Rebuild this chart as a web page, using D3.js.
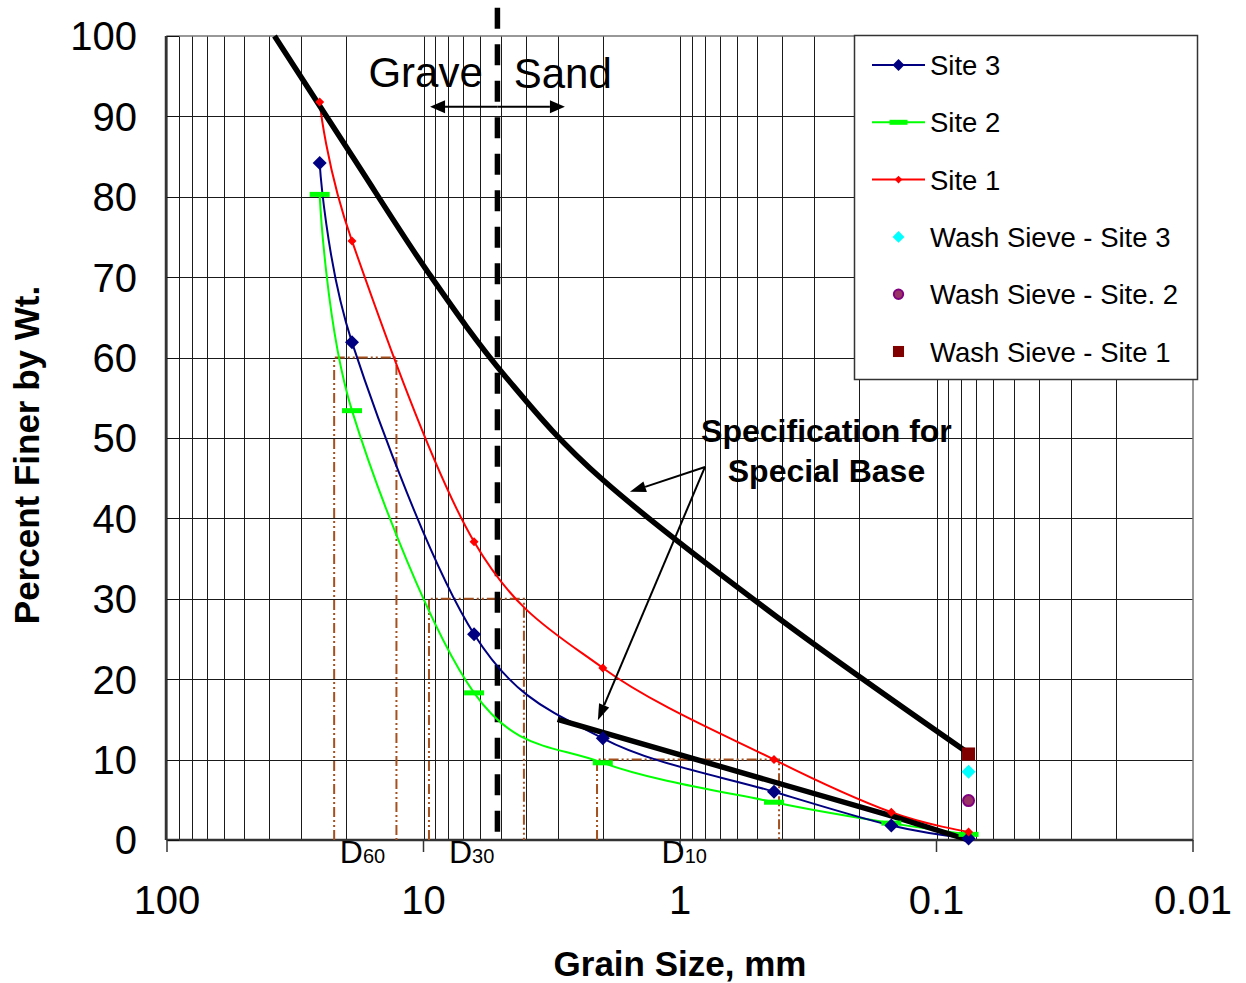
<!DOCTYPE html>
<html><head><meta charset="utf-8">
<script src="https://cdn.jsdelivr.net/npm/d3@7"></script>
<style>body{margin:0;background:#fff}</style>
</head><body>
<svg id="c" width="1246" height="983"></svg>
<script>
// ---------------- DATA ----------------
const sieveSizes = [25.4, 19, 6.35, 2, 0.43, 0.15, 0.075];      // mm
const site3 = [84.2, 61.9, 25.6, 12.65, 6.0, 1.8, 0.2];       // % finer
const site2 = [80.3, 53.4, 18.3, 9.6, 4.7, 2.1, 0.7];
const site1 = [91.8, 74.5, 37.1, 21.4, 10.0, 3.45, 1.0];
const washSize = [0.075];
const washSite3 = [8.5];
const washSite2 = [4.9];
const washSite1 = [10.7];
const specUpperSize = [38.1, 19, 9.5, 4.75, 2, 0.425, 0.075];
const specUpperPct  = [100, 85.1, 70.4, 57.5, 44.8, 27.9, 10.8];
const specLowerSize = [3.0, 0.15, 0.075];
const specLowerPct  = [15, 3.0, 0];
const dPct     = [60, 30, 10];
const dCoarse  = [22.3, 9.52, 2.106];
const dFine    = [12.75, 4.06, 0.411];
const dLabels  = ["60", "30", "10"];
const dLabelSize = [21.2, 7.96, 1.18];
const dLabelPct = -2.86;
const xTickValues = [100, 10, 1, 0.1, 0.01];
const xTickLabels = ["100", "10", "1", "0.1", "0.01"];
const yTickValues = [0, 10, 20, 30, 40, 50, 60, 70, 80, 90, 100];
const legendLabels = ["Site 3", "Site 2", "Site 1", "Wash Sieve - Site 3", "Wash Sieve - Site. 2", "Wash Sieve - Site 1"];
const boundarySize = 5.15;            // gravel / sand boundary (mm)
const boundaryTopPct = 103.5;
const gsArrowSize = [9.43, 2.81];
const gsArrowPct = 91.2;
const gravelLabel = ["Grave", 16.4, 93.65];
const sandLabel = ["Sand", 4.45, 93.5];
const specText = ["Specification for", "Special Base"];
const specTextSize = 0.2685;
const specTextPct = [49.5, 44.5];
const specArrowFrom = [0.799, 46.4];
const specArrowTips = [[1.567, 43.3], [2.09, 14.9]];

// ---------------- CHART ----------------
const svg = d3.select("#c");
const L = 167, R = 1193, T = 36, B = 840;
const x = d3.scaleLog().domain([100, 0.01]).range([L, R]);
const y = d3.scaleLinear().domain([0, 100]).range([B, T]);
const font = "'Liberation Sans', Arial, Helvetica, sans-serif";
const crisp = v => Math.round(v) + 0.5;

// grid
const grid = svg.append("g").attr("stroke", "#1a1a1a").attr("stroke-width", 1).attr("shape-rendering", "crispEdges");
grid.selectAll("line.v").data(x.ticks().filter(d => d < 99 && d > 0.0101)).join("line")
  .attr("x1", d => crisp(x(d))).attr("x2", d => crisp(x(d)))
  .attr("y1", T).attr("y2", B);
grid.selectAll("line.h").data(yTickValues.filter(d => d > 0 && d < 100)).join("line")
  .attr("x1", L).attr("x2", R)
  .attr("y1", d => crisp(y(d))).attr("y2", d => crisp(y(d)));

// frame
svg.append("rect").attr("x", L).attr("y", T).attr("width", R - L).attr("height", B - T)
  .attr("fill", "none").attr("stroke", "#777").attr("stroke-width", 1.5);
svg.append("line").attr("x1", L).attr("x2", R).attr("y1", B).attr("y2", B).attr("stroke", "#333").attr("stroke-width", 2.5);
svg.append("line").attr("x1", L - 1).attr("x2", L - 1).attr("y1", T).attr("y2", B).attr("stroke", "#333").attr("stroke-width", 2.5);

// y ticks inward
svg.append("g").selectAll("line").data(yTickValues).join("line")
  .attr("x1", L).attr("x2", L + 12).attr("y1", d => crisp(y(d))).attr("y2", d => crisp(y(d)))
  .attr("stroke", "#111").attr("stroke-width", 1);
// x ticks outward
svg.append("g").selectAll("line").data(xTickValues).join("line")
  .attr("x1", d => x(d)).attr("x2", d => x(d)).attr("y1", B).attr("y2", B + 12)
  .attr("stroke", "#333").attr("stroke-width", 1.5);

// tick labels
svg.append("g").selectAll("text").data(yTickValues).join("text")
  .attr("x", 137).attr("y", d => y(d)).attr("dy", "0.36em")
  .attr("text-anchor", "end").attr("font-family", font).attr("font-size", 40)
  .text(d => d);
svg.append("g").selectAll("text").data(xTickValues).join("text")
  .attr("x", d => x(d)).attr("y", 914)
  .attr("text-anchor", "middle").attr("font-family", font).attr("font-size", 40)
  .text((d, i) => xTickLabels[i]);

// axis titles
svg.append("text").attr("x", 680).attr("y", 976).attr("text-anchor", "middle")
  .attr("font-family", font).attr("font-weight", "bold").attr("font-size", 35).text("Grain Size, mm");
svg.append("text").attr("transform", "translate(39,455) rotate(-90)").attr("text-anchor", "middle")
  .attr("font-family", font).attr("font-weight", "bold").attr("font-size", 35).text("Percent Finer by Wt.");

// D-lines
const line = d3.line().x(d => x(d[0])).y(d => y(d[1]));
svg.append("g").selectAll("path").data(dPct).join("path")
  .attr("d", (p, i) => line([[dCoarse[i], 0], [dCoarse[i], p], [dFine[i], p], [dFine[i], 0]]))
  .attr("fill", "none").attr("stroke", "#A5501F").attr("stroke-width", 2)
  .attr("stroke-dasharray", "10,3,2,3,2,3");

// D labels
const dl = svg.append("g").selectAll("text").data(dLabels).join("text")
  .attr("x", (d, i) => x(dLabelSize[i])).attr("y", y(dLabelPct))
  .attr("font-family", font).attr("font-size", 32);
dl.append("tspan").text("D");
dl.append("tspan").attr("font-size", 20).text(d => d);

// gravel/sand boundary
svg.append("line").attr("x1", x(boundarySize)).attr("x2", x(boundarySize))
  .attr("y1", y(boundaryTopPct)).attr("y2", y(0))
  .attr("stroke", "#000").attr("stroke-width", 5.5).attr("stroke-dasharray", "21,15.5");

// arrow helper
function arrow(g, x0, y0, x1, y1, len, half, width) {
  const a = Math.atan2(y1 - y0, x1 - x0);
  const bx = x1 - len * Math.cos(a), by = y1 - len * Math.sin(a);
  g.append("line").attr("x1", x0).attr("y1", y0).attr("x2", bx).attr("y2", by)
    .attr("stroke", "#000").attr("stroke-width", width);
  const px = -Math.sin(a) * half, py = Math.cos(a) * half;
  g.append("path").attr("d", `M${x1},${y1}L${bx + px},${by + py}L${bx - px},${by - py}Z`).attr("fill", "#000");
}
const ann = svg.append("g");
// double arrow gravel/sand
{
  const xa = x(gsArrowSize[0]), xb = x(gsArrowSize[1]), ya = y(gsArrowPct), xm = (xa + xb) / 2;
  arrow(ann, xm, ya, xa, ya, 15, 6.5, 2.2);
  arrow(ann, xm, ya, xb, ya, 15, 6.5, 2.2);
}
ann.append("text").attr("x", x(gravelLabel[1])).attr("y", y(gravelLabel[2]))
  .attr("font-family", font).attr("font-size", 42).text(gravelLabel[0]);
ann.append("text").attr("x", x(sandLabel[1])).attr("y", y(sandLabel[2]))
  .attr("font-family", font).attr("font-size", 42).text(sandLabel[0]);

// site curves
const smooth = d3.line().x(d => x(d[0])).y(d => y(d[1])).curve(d3.curveCardinal.tension(0));
const zip = (a, b) => a.map((v, i) => [v, b[i]]);
const sites = [
  {vals: site2, color: "#00FF00"},
  {vals: site3, color: "#000080"},
  {vals: site1, color: "#FF0000"}
];
svg.append("g").selectAll("path").data(sites).join("path")
  .attr("d", s => smooth(zip(sieveSizes, s.vals)))
  .attr("fill", "none").attr("stroke", s => s.color).attr("stroke-width", 2);

// specification lines
svg.append("path").attr("d", smooth(zip(specUpperSize, specUpperPct)))
  .attr("fill", "none").attr("stroke", "#000").attr("stroke-width", 5.5);
svg.append("path").attr("d", line(zip(specLowerSize, specLowerPct)))
  .attr("fill", "none").attr("stroke", "#000").attr("stroke-width", 5.5);

// markers
function marker(g, type, cx, cy, s = 1) {
  if (type === "navy") g.append("path").attr("d", `M${cx},${cy - 7 * s}L${cx + 7 * s},${cy}L${cx},${cy + 7 * s}L${cx - 7 * s},${cy}Z`).attr("fill", "#000080");
  else if (type === "red") g.append("path").attr("d", `M${cx},${cy - 4.5 * s}L${cx + 4.5 * s},${cy}L${cx},${cy + 4.5 * s}L${cx - 4.5 * s},${cy}Z`).attr("fill", "#FF0000");
  else if (type === "green") g.append("rect").attr("x", cx - 10 * s).attr("y", cy - 2.5).attr("width", 20 * s).attr("height", 5).attr("fill", "#00FF00");
  else if (type === "cyan") g.append("path").attr("d", `M${cx},${cy - 7 * s}L${cx + 7 * s},${cy}L${cx},${cy + 7 * s}L${cx - 7 * s},${cy}Z`).attr("fill", "#00FFFF");
  else if (type === "purple") g.append("circle").attr("cx", cx).attr("cy", cy).attr("r", 5.5 * s).attr("fill", "#993366").attr("stroke", "#800080").attr("stroke-width", 2);
  else if (type === "maroon") g.append("rect").attr("x", cx - 6.5 * s).attr("y", cy - 6.5 * s).attr("width", 13 * s).attr("height", 13 * s).attr("fill", "#800000");
}
const mk = svg.append("g");
sieveSizes.forEach((d, i) => marker(mk, "green", x(d), y(site2[i])));
sieveSizes.forEach((d, i) => marker(mk, "navy", x(d), y(site3[i])));
sieveSizes.forEach((d, i) => marker(mk, "red", x(d), y(site1[i])));
washSize.forEach((d, i) => marker(mk, "cyan", x(d), y(washSite3[i])));
washSize.forEach((d, i) => marker(mk, "purple", x(d), y(washSite2[i])));
washSize.forEach((d, i) => marker(mk, "maroon", x(d), y(washSite1[i])));

// specification annotation
specText.forEach((t, i) => ann.append("text").attr("x", x(specTextSize)).attr("y", y(specTextPct[i]))
  .attr("text-anchor", "middle").attr("font-family", font).attr("font-weight", "bold").attr("font-size", 32).text(t));
const ag = svg.append("g");
specArrowTips.forEach(t => arrow(ag, x(specArrowFrom[0]), y(specArrowFrom[1]), x(t[0]), y(t[1]), 16, 5.5, 2));

// legend
const lg = svg.append("g");
lg.append("rect").attr("x", 854.5).attr("y", 35.5).attr("width", 343).attr("height", 344)
  .attr("fill", "#fff").attr("stroke", "#333").attr("stroke-width", 1.5);
const legTypes = ["navy", "green", "red", "cyan", "purple", "maroon"];
const legColors = ["#000080", "#00FF00", "#FF0000", null, null, null];
legendLabels.forEach((lab, i) => {
  const cy = 65 + i * 57.3;
  if (legColors[i]) lg.append("line").attr("x1", 872).attr("x2", 925).attr("y1", cy).attr("y2", cy)
    .attr("stroke", legColors[i]).attr("stroke-width", 2);
  marker(lg, legTypes[i], 898.5, cy, legTypes[i] === "green" ? 0.9 : 0.85);
  lg.append("text").attr("x", 930).attr("y", cy + 10).attr("font-family", font).attr("font-size", 27.5).text(lab);
});
</script>
</body></html>
